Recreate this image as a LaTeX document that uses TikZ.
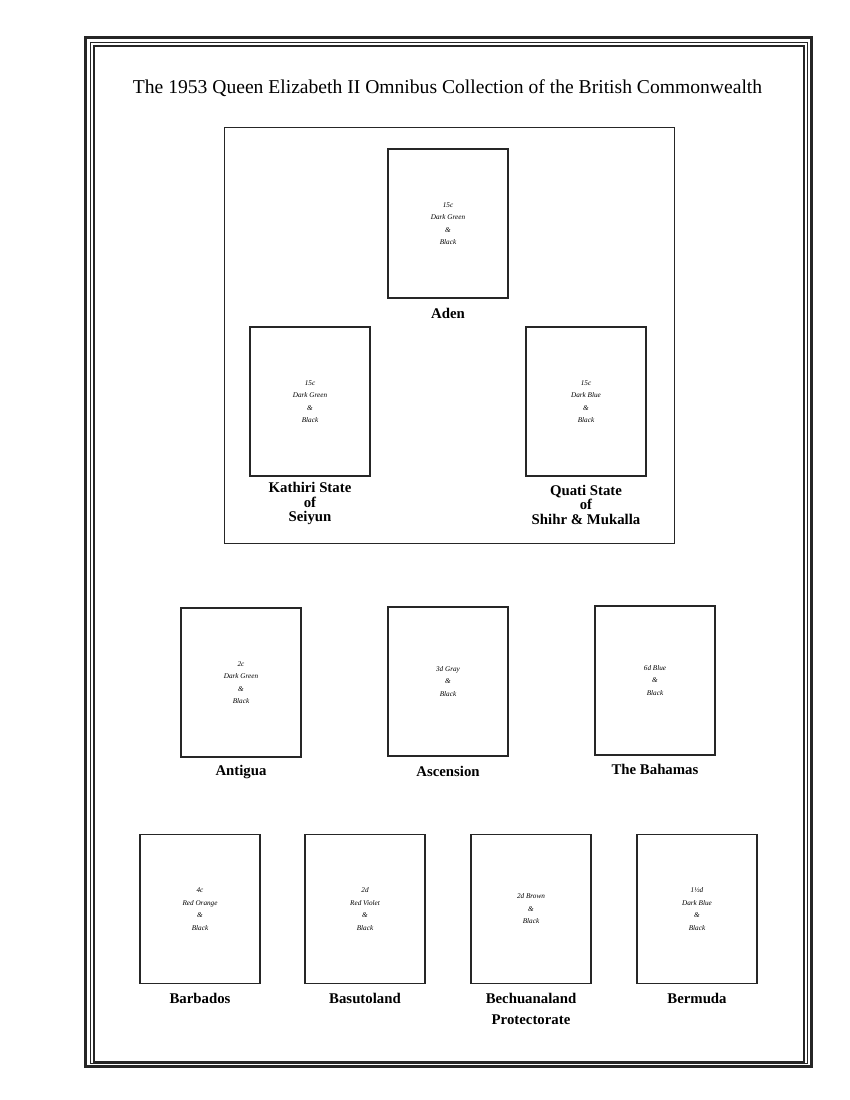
\documentclass[tikz,border=0pt]{standalone}
\usepackage{fontspec}
\setmainfont{Liberation Serif}
\begin{document}
\begin{tikzpicture}[x=1pt,y=-1pt,
  stamp/.style={draw=black!85,line width=1.2pt,minimum width=120pt,minimum height=149pt,inner sep=0pt,align=center,
    font=\itshape\fontsize{7.2}{12.5}\selectfont},
  lbl/.style={align=center,font=\bfseries\fontsize{14.8}{14.5}\selectfont,inner sep=0pt},
  frame/.style={draw=black!85}]
\useasboundingbox (0,0) rectangle (850,1100);
% page border
\draw[frame,line width=3pt] (85.5,37.5) rectangle (811,1066.5);
\draw[frame,line width=1pt] (90.8,42.8) rectangle (807.3,1063.8);
\draw[frame,line width=2pt] (93.8,46) rectangle (804,1062);
% title
\node[font=\fontsize{19.6}{22}\selectfont,inner sep=0pt] (title) at (447.5,88) {The 1953 Queen Elizabeth II Omnibus Collection of the British Commonwealth};
% group box
\draw[black!85,line width=1pt] (224,127) rectangle (674,543);
% top group
\node[stamp] (aden) at (448,223.5) {15c\\Dark Green\\\&\\Black};
\node[lbl] (adenl) at (448,313) {Aden};
\node[stamp] (kath) at (310,401.5) {15c\\Dark Green\\\&\\Black};
\node[lbl] (kathl) at (310,503.5) {Kathiri State\\of\\Seiyun};
\node[stamp] (quat) at (586,401.5) {15c\\Dark Blue\\\&\\Black};
\node[lbl] (quatl) at (586,504.5) {Quati State\\of\\Shihr \& Mukalla};
% row 2
\node[stamp] (anti) at (241,682.5) {2c\\Dark Green\\\&\\Black};
\node[lbl] (antil) at (241,772) {Antigua};
\node[stamp] (asce) at (448,681.5) {3d Gray\\\&\\Black};
\node[lbl] (ascel) at (448,771) {Ascension};
\node[stamp] (baha) at (655,680.5) {6d Blue\\\&\\Black};
\node[lbl] (bahal) at (655,769) {The Bahamas};
% row 3
\node[stamp] (barb) at (200,909) {4c\\Red Orange\\\&\\Black};
\node[lbl] (barbl) at (200,998) {Barbados};
\node[stamp] (basu) at (365,909) {2d\\Red Violet\\\&\\Black};
\node[lbl] (basul) at (365,998) {Basutoland};
\node[stamp] (bech) at (531,909) {2d Brown\\\&\\Black};
\node[lbl,font=\bfseries\fontsize{14.8}{21}\selectfont] (bechl) at (531,1008.5) {Bechuanaland\\Protectorate};
\node[stamp] (berm) at (697,909) {1½d\\Dark Blue\\\&\\Black};
\node[lbl] (berml) at (697,998) {Bermuda};
\end{tikzpicture}
\end{document}
